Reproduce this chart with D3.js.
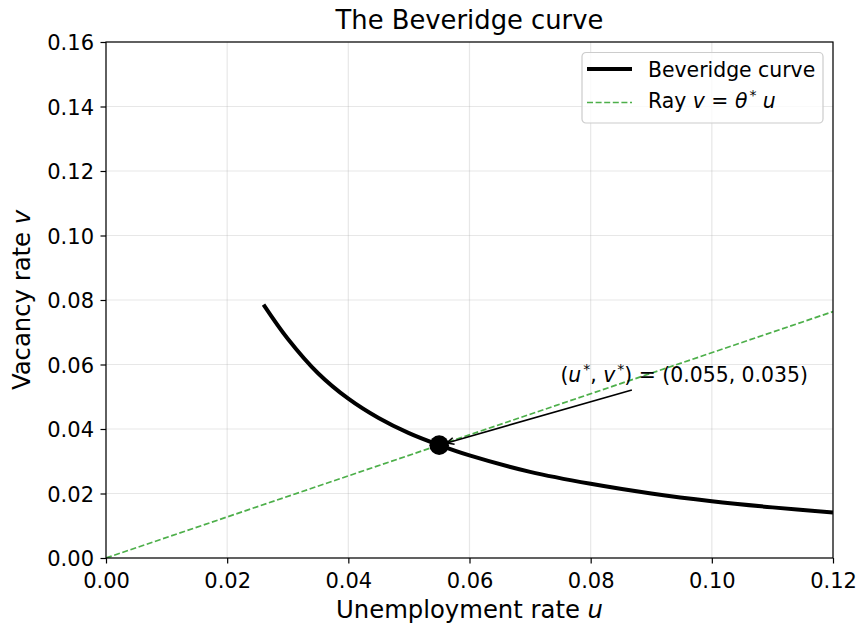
<!DOCTYPE html>
<html>
<head>
<meta charset="utf-8">
<script src="https://cdn.jsdelivr.net/npm/d3@7"></script>
<style>
  body { margin: 0; background: #fff; }
  svg { display: block; font-family: "DejaVu Sans", sans-serif; }
</style>
</head>
<body>
<div id="wrapper"></div>
<script>
// data
var curveU = [0.026, 0.030, 0.035, 0.040, 0.045, 0.050, 0.055, 0.060, 0.070, 0.080, 0.090, 0.100, 0.110, 0.120];
var curveV = [0.0786, 0.0680, 0.0573, 0.0494, 0.0434, 0.0387, 0.0350, 0.0318, 0.0267, 0.0230, 0.0200, 0.0176, 0.0157, 0.0141];
var rayU = [0, 0.12];
var rayV = [0, 0.0764];
var eqPoint = { u: 0.055, v: 0.035 };
var xTicks = [0.00, 0.02, 0.04, 0.06, 0.08, 0.10, 0.12];
var yTicks = [0.00, 0.02, 0.04, 0.06, 0.08, 0.10, 0.12, 0.14, 0.16];
var annoText = { u: 0.075, v: 0.0546 };
var annoStart = { u: 0.0868, v: 0.0521 };

var width = 860, height = 623;
var margin = { left: 106, right: 27, top: 42, bottom: 65 };

var svg = d3.select('#wrapper').append('svg')
  .attr('width', width)
  .attr('height', height)
  .attr('viewBox', [0, 0, width, height]);

var x = d3.scaleLinear().domain([0, 0.12]).range([margin.left, width - margin.right]);
var y = d3.scaleLinear().domain([0, 0.16]).range([height - margin.bottom, margin.top]);

var tickFs = 21, labelFs = 24.3, legendFs = 20.4, annoFs = 20.4;

// grid
svg.append('g').selectAll('line').data(xTicks).join('line')
  .attr('x1', d => x(d)).attr('x2', d => x(d))
  .attr('y1', y(0)).attr('y2', y(0.16))
  .attr('stroke', '#b0b0b0').attr('stroke-opacity', 0.3).attr('stroke-width', 1.2);
svg.append('g').selectAll('line').data(yTicks).join('line')
  .attr('y1', d => y(d)).attr('y2', d => y(d))
  .attr('x1', x(0)).attr('x2', x(0.12))
  .attr('stroke', '#b0b0b0').attr('stroke-opacity', 0.3).attr('stroke-width', 1.2);

// clip
svg.append('clipPath').attr('id', 'clip').append('rect')
  .attr('x', x(0)).attr('y', y(0.16))
  .attr('width', x(0.12) - x(0)).attr('height', y(0) - y(0.16));

var plot = svg.append('g').attr('clip-path', 'url(#clip)');

// ray
var line = d3.line().x(d => x(d[0])).y(d => y(d[1]));
plot.append('path')
  .datum(rayU.map((u, i) => [u, rayV[i]]))
  .attr('d', line)
  .attr('fill', 'none')
  .attr('stroke', '#4daf4a')
  .attr('stroke-width', 1.7)
  .attr('stroke-dasharray', '6,2.6');

// beveridge curve
var curveLine = d3.line().x(d => x(d[0])).y(d => y(d[1])).curve(d3.curveCatmullRom);
plot.append('path')
  .datum(curveU.map((u, i) => [u, curveV[i]]))
  .attr('d', curveLine)
  .attr('fill', 'none')
  .attr('stroke', '#000')
  .attr('stroke-width', 4);

// point
svg.append('circle')
  .attr('cx', x(eqPoint.u)).attr('cy', y(eqPoint.v))
  .attr('r', 9.8).attr('fill', '#000');

// annotation arrow
var sx = x(annoStart.u), sy = y(annoStart.v);
var px = x(eqPoint.u), py = y(eqPoint.v);
var ang = Math.atan2(py - sy, px - sx);
var tx = px - Math.cos(ang) * 8, ty = py - Math.sin(ang) * 8;
svg.append('line')
  .attr('x1', sx).attr('y1', sy).attr('x2', tx).attr('y2', ty)
  .attr('stroke', '#000').attr('stroke-width', 1.6);
var hl = 7, hw = 3.4;
[-1, 1].forEach(function (s) {
  svg.append('line')
    .attr('x1', tx).attr('y1', ty)
    .attr('x2', tx - Math.cos(ang) * hl - s * Math.sin(ang) * hw)
    .attr('y2', ty - Math.sin(ang) * hl + s * Math.cos(ang) * hw)
    .attr('stroke', '#000').attr('stroke-width', 1.6);
});

var at = svg.append('text')
  .attr('x', x(annoText.u)).attr('y', y(annoText.v))
  .style('font-size', annoFs + 'px');
at.append('tspan').text('(');
at.append('tspan').attr('font-style', 'italic').text('u');
at.append('tspan').attr('dx', 2).attr('dy', -8).style('font-size', '14px').text('*');
at.append('tspan').attr('dy', 8).text(', ');
at.append('tspan').attr('font-style', 'italic').text('v');
at.append('tspan').attr('dx', 2).attr('dy', -8).style('font-size', '14px').text('*');
at.append('tspan').attr('dy', 8).text(') = (0.055, 0.035)');

// axes frame
svg.append('rect')
  .attr('x', x(0)).attr('y', y(0.16))
  .attr('width', x(0.12) - x(0)).attr('height', y(0) - y(0.16))
  .attr('fill', 'none').attr('stroke', '#000').attr('stroke-width', 1.2);

// axes
var xAxis = d3.axisBottom(x).tickValues(xTicks).tickFormat(d3.format('.2f')).tickSizeInner(5.5).tickSizeOuter(0).tickPadding(5);
var gx = svg.append('g').attr('transform', `translate(0,${y(0)})`).call(xAxis);
var yAxis = d3.axisLeft(y).tickValues(yTicks).tickFormat(d3.format('.2f')).tickSizeInner(5.5).tickSizeOuter(0).tickPadding(6.5);
var gy = svg.append('g').attr('transform', `translate(${x(0)},0)`).call(yAxis);
[gx, gy].forEach(function (g) {
  g.select('.domain').remove();
  g.selectAll('line').attr('stroke', '#000').attr('stroke-width', 1.2);
  g.selectAll('text').attr('fill', '#000')
    .style('font-size', tickFs + 'px')
    .style('font-family', '"DejaVu Sans", sans-serif');
});
gx.selectAll('text').attr('dy', null).attr('y', 30);
gy.selectAll('text').attr('dy', '0.36em');

// title and labels
svg.append('text')
  .attr('x', (x(0) + x(0.12)) / 2).attr('y', 29)
  .attr('text-anchor', 'middle')
  .style('font-size', '25.8px')
  .text('The Beveridge curve');

var xl = svg.append('text')
  .attr('x', (x(0) + x(0.12)) / 2).attr('y', 618)
  .attr('text-anchor', 'middle')
  .style('font-size', labelFs + 'px');
xl.append('tspan').text('Unemployment rate ');
xl.append('tspan').attr('font-style', 'italic').text('u');

var yl = svg.append('text')
  .attr('transform', `translate(30,${(y(0) + y(0.16)) / 2}) rotate(-90)`)
  .attr('text-anchor', 'middle')
  .style('font-size', labelFs + 'px');
yl.append('tspan').text('Vacancy rate ');
yl.append('tspan').attr('font-style', 'italic').text('v');

// legend
var lg = svg.append('g').attr('transform', 'translate(582,52.5)');
lg.append('rect')
  .attr('width', 241).attr('height', 70.5).attr('rx', 4)
  .attr('fill', '#fff').attr('fill-opacity', 0.8)
  .attr('stroke', '#cccccc').attr('stroke-width', 1.2);
lg.append('line').attr('x1', 5).attr('x2', 50).attr('y1', 16.5).attr('y2', 16.5)
  .attr('stroke', '#000').attr('stroke-width', 4);
lg.append('text').attr('x', 66).attr('y', 24.3).style('font-size', legendFs + 'px').text('Beveridge curve');
lg.append('line').attr('x1', 5).attr('x2', 50).attr('y1', 50).attr('y2', 50)
  .attr('stroke', '#4daf4a').attr('stroke-width', 1.7).attr('stroke-dasharray', '6,2.6');
var lt = lg.append('text').attr('x', 66).attr('y', 55.7).style('font-size', legendFs + 'px');
lt.append('tspan').text('Ray ');
lt.append('tspan').attr('font-style', 'italic').text('v');
lt.append('tspan').text(' = ');
lt.append('tspan').attr('font-style', 'italic').text('θ');
lt.append('tspan').attr('dx', 2).attr('dy', -8).style('font-size', '14px').text('*');
lt.append('tspan').attr('dy', 8).attr('font-style', 'italic').text(' u');
</script>
</body>
</html>
